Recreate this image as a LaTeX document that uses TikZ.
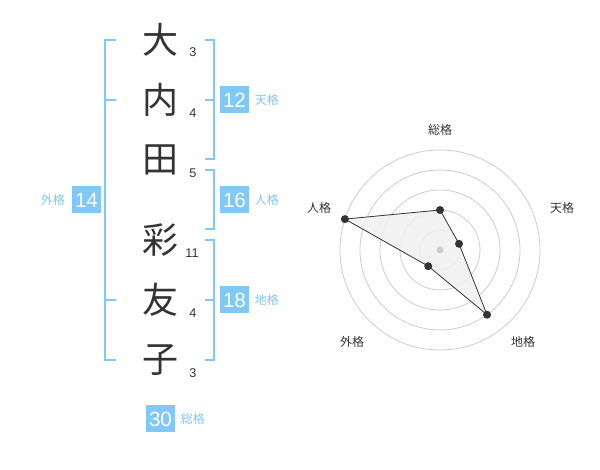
\documentclass[tikz,border=0pt]{standalone}
\usepackage{fontspec}
\setmainfont{Liberation Sans}
\newfontfamily\jp{Noto Sans CJK JP}
\usetikzlibrary{positioning,calc}
\definecolor{kakublue}{HTML}{80C8F8}
\definecolor{kakutext}{HTML}{7FC6F0}
\definecolor{inkgray}{HTML}{333333}
\definecolor{ringgray}{HTML}{CCCCCC}
\definecolor{fillgray}{HTML}{F0F0F0}

\begin{document}
\begin{tikzpicture}[x=0.75pt, y=0.75pt,
  kanji/.style={font=\jp\fontsize{27}{27}\selectfont, text=inkgray, inner sep=0},
  strokes/.style={font=\fontsize{9.5}{10}\selectfont, text=inkgray, inner sep=0},
  kakubox/.style={fill=kakublue, text=white, minimum width=21.75pt, minimum height=20.25pt, inner sep=0, font=\fontsize{15.5}{16}\selectfont},
  kakulabel/.style={text=kakutext, inner sep=0, font=\jp\fontsize{9}{9}\selectfont},
  bracket/.style={draw=kakublue, line width=1.3pt},
  radarlabel/.style={text=inkgray, inner sep=0, font=\jp\fontsize{9}{9}\selectfont},
  radarpoint/.style={circle, fill=inkgray, inner sep=0, minimum size=6pt}]
\useasboundingbox (0,0) rectangle (600,470);

% name and strokes
\node[kanji] (K1) at (160,430) {大};
\node[kanji] (K2) at (160,370) {内};
\node[kanji] (K3) at (160,310) {田};
\node[kanji] (K4) at (160,230) {彩};
\node[kanji] (K5) at (160,170) {友};
\node[kanji] (K6) at (160,110) {子};
\node[strokes] (S1) at (193,418) {3};
\node[strokes] (S2) at (193,357) {4};
\node[strokes] (S3) at (193,297) {5};
\node[strokes] (S4) at (192,217) {11};
\node[strokes] (S5) at (193,157) {4};
\node[strokes] (S6) at (193,97) {3};

% brackets
\draw[bracket] (116,430) -- (105,430) -- (105,110) -- (116,110);
\draw[bracket] (105,370) -- (116,370);
\draw[bracket] (105,170) -- (116,170);
\draw[bracket] (205,430) -- (214,430) -- (214,311) -- (205,311);
\draw[bracket] (205,370) -- (214,370);
\draw[bracket] (205,300) -- (214,300) -- (214,241) -- (205,241);
\draw[bracket] (205,230) -- (214,230) -- (214,110) -- (205,110);
\draw[bracket] (205,170) -- (214,170);

% kaku boxes
\node[kakubox] (B12) at (234.5,370) {12};
\node[kakubox] (B16) at (234.5,270) {16};
\node[kakubox] (B18) at (234.5,170) {18};
\node[kakubox] (B14) at (86.5,270) {14};
\node[kakubox] (B30) at (160.5,51) {30};
\node[kakulabel, right=4pt of B12] (L12) {天格};
\node[kakulabel, right=4pt of B16] (L16) {人格};
\node[kakulabel, right=4pt of B18] (L18) {地格};
\node[kakulabel, left=5pt of B14] (L14) {外格};
\node[kakulabel, right=4pt of B30] (L30) {総格};

% radar
\coordinate (C) at (440,220);
\foreach \r in {20,40,60,80,100}
  \draw[ringgray, line width=0.6pt] (C) circle[radius=\r];
\coordinate (P1) at ($(C)+(90:40)$);
\coordinate (P2) at ($(C)+(18:20)$);
\coordinate (P3) at ($(C)+(-54:80)$);
\coordinate (P4) at ($(C)+(-126:20)$);
\coordinate (P5) at ($(C)+(162:100)$);
\draw[inkgray, fill=fillgray, fill opacity=0.85, line width=0.6pt] (P1) -- (P2) -- (P3) -- (P4) -- (P5) -- cycle;
\fill[ringgray] (C) circle[radius=3.5];
\foreach \i in {1,...,5}
  \node[radarpoint] (D\i) at (P\i) {};
\node[radarlabel] (R1) at (440,340) {総格};
\node[radarlabel] (R2) at (562,262) {天格};
\node[radarlabel] (R3) at (523,128) {地格};
\node[radarlabel] (R4) at (352,128) {外格};
\node[radarlabel] (R5) at (319,262) {人格};
\end{tikzpicture}
\end{document}
